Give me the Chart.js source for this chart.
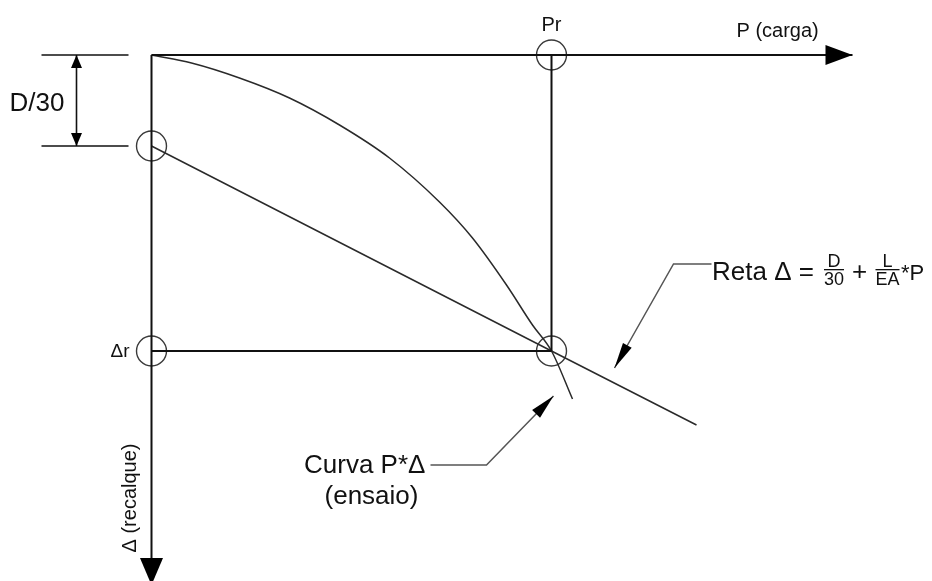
<!DOCTYPE html>
<html>
<head>
<meta charset="utf-8">
<script src="https://cdn.jsdelivr.net/npm/chart.js@4/dist/chart.umd.min.js"></script>
<style>
  html, body { margin: 0; padding: 0; background: #ffffff; }
  canvas { display: block; }
</style>
</head>
<body>
<canvas id="diagrama" width="932" height="581"></canvas>
<script>
// Carga P (eixo horizontal) e recalque Δ (eixo vertical, para baixo), em unidades do desenho
const loadAxis = [[0, 0], [701, 0]];
const settlementAxis = [[0, 0], [0, 530]];
const Pr = 400;
const deltaR = 296;
const D30 = 91;

// Curva P x Δ do ensaio
const curveP     = [0, 40, 88, 138, 188, 238, 288, 321, 355, 381, 400, 421];
const curveDelta = [0, 8, 23, 43, 70, 103, 147, 183, 230, 270, 296, 344];

// Reta Δ = D/30 + L/(EA)·P
const retaP     = [0, 400, 545];
const retaDelta = [91, 296, 370];

// Pontos marcados com círculo
const markerP     = [400, 0, 0, 400];
const markerDelta = [0, 91, 296, 296];

// Cota D/30 à esquerda
const dimTicks = [-110, -23];
const dimP = -75;

// Linhas de chamada das legendas
const retaLeader  = [[560, 209], [522, 209], [463, 313]];
const curvaLeader = [[279, 410], [335, 410], [402, 341]];

const toXY = arr => arr.map(([x, y]) => ({ x, y }));
const zip = (xs, ys) => xs.map((x, i) => ({ x, y: ys[i] }));

const INK = '#111111';
const THIN = '#2a2a2a';
const LEAD = '#555555';

function lineSet(data, color, width, extra) {
  return Object.assign({
    data, showLine: true, borderColor: color, borderWidth: width,
    pointRadius: 0, pointHoverRadius: 0, fill: false, tension: 0
  }, extra || {});
}

const datasets = [
  lineSet(toXY(loadAxis), INK, 2, { arrow: { end: true, len: 27, half: 10 } }),
  lineSet(toXY(settlementAxis), INK, 2, { arrow: { end: true, len: 27, half: 11.5 } }),
  lineSet([{ x: Pr, y: 0 }, { x: Pr, y: deltaR }], INK, 2),
  lineSet([{ x: 0, y: deltaR }, { x: Pr, y: deltaR }], INK, 2),
  lineSet(zip(curveP, curveDelta), THIN, 1.5, { cubicInterpolationMode: 'monotone' }),
  lineSet(zip(retaP, retaDelta), THIN, 1.5),
  lineSet([{ x: dimTicks[0], y: 0 }, { x: dimTicks[1], y: 0 }], INK, 1.6),
  lineSet([{ x: dimTicks[0], y: D30 }, { x: dimTicks[1], y: D30 }], INK, 1.6),
  lineSet([{ x: dimP, y: 0 }, { x: dimP, y: D30 }], INK, 1.6,
          { arrow: { start: true, end: true, len: 13, half: 5.5 } }),
  lineSet(toXY(retaLeader), LEAD, 1.5, { arrow: { end: true, len: 26, half: 5 } }),
  lineSet(toXY(curvaLeader), LEAD, 1.5, { arrow: { end: true, len: 25, half: 5.5 } }),
  {
    data: zip(markerP, markerDelta), showLine: false,
    pointStyle: 'circle', pointRadius: 15, pointHoverRadius: 15,
    pointBackgroundColor: 'rgba(0,0,0,0)', pointBorderColor: '#3a3a3a', pointBorderWidth: 1.4
  }
];

// Pontas de seta nas extremidades das linhas marcadas com "arrow"
const arrowHeads = {
  id: 'arrowHeads',
  afterDatasetsDraw(chart) {
    const ctx = chart.ctx;
    chart.data.datasets.forEach((ds, i) => {
      if (!ds.arrow) return;
      const pts = chart.getDatasetMeta(i).data;
      const head = (tip, from) => {
        const dx = tip.x - from.x, dy = tip.y - from.y;
        const d = Math.hypot(dx, dy) || 1;
        const ux = dx / d, uy = dy / d;
        const bx = tip.x - ux * ds.arrow.len, by = tip.y - uy * ds.arrow.len;
        ctx.beginPath();
        ctx.moveTo(tip.x, tip.y);
        ctx.lineTo(bx - uy * ds.arrow.half, by + ux * ds.arrow.half);
        ctx.lineTo(bx + uy * ds.arrow.half, by - ux * ds.arrow.half);
        ctx.closePath();
        ctx.fillStyle = '#000';
        ctx.fill();
      };
      ctx.save();
      if (ds.arrow.end) head(pts[pts.length - 1], pts[pts.length - 2]);
      if (ds.arrow.start) head(pts[0], pts[1]);
      ctx.restore();
    });
  }
};

// Textos do diagrama
const FONT = '"Liberation Sans", Arial, sans-serif';
const diagramText = {
  id: 'diagramText',
  afterDraw(chart) {
    const ctx = chart.ctx;
    const sx = chart.scales.x, sy = chart.scales.y;
    const X = v => sx.getPixelForValue(v), Y = v => sy.getPixelForValue(v);
    const put = (txt, x, y, size, align) => {
      ctx.font = size + 'px ' + FONT;
      ctx.textAlign = align || 'left';
      ctx.textBaseline = 'alphabetic';
      ctx.fillText(txt, x, y);
    };
    ctx.save();
    ctx.fillStyle = INK;

    put('Pr', X(Pr), Y(-24), 20, 'center');
    put('P (carga)', X(585), Y(-18), 20, 'left');
    put('D/30', X(-142), Y(56), 26, 'left');
    put('\u0394r', X(-22), Y(302), 19, 'right');

    // Reta Δ = D/30 + L/EA * P
    const rx = X(560.5), ry = Y(225);
    put('Reta \u0394 =', rx, ry, 26, 'left');
    const frac = (num, den, cx) => {
      put(num, cx, ry - 13, 18, 'center');
      put(den, cx, ry + 5, 18, 'center');
      ctx.font = '18px ' + FONT;
      const w = Math.max(ctx.measureText(num).width, ctx.measureText(den).width);
      ctx.fillRect(cx - w / 2, ry - 11, w, 1.3);
    };
    frac('D', '30', X(682.5));
    put('+', X(708), ry, 26, 'center');
    frac('L', 'EA', X(736));
    put('*P', X(749.5), ry, 22, 'left');

    put('Curva P*\u0394', X(152.5), Y(418), 26, 'left');
    put('(ensaio)', X(220), Y(449), 26, 'center');

    // Rótulo do eixo vertical, girado
    ctx.save();
    ctx.translate(X(-21.5), Y(443));
    ctx.rotate(-Math.PI / 2);
    ctx.font = '20px ' + FONT;
    ctx.textAlign = 'center';
    ctx.textBaseline = 'middle';
    ctx.fillText('\u0394 (recalque)', 0, 0);
    ctx.restore();

    ctx.restore();
  }
};

new Chart(document.getElementById('diagrama'), {
  type: 'scatter',
  data: { datasets },
  options: {
    responsive: false,
    animation: false,
    devicePixelRatio: 1,
    layout: { padding: 0, autoPadding: false },
    plugins: { legend: { display: false }, tooltip: { enabled: false } },
    events: [],
    scales: {
      x: { type: 'linear', min: -151.5, max: 780.5, display: false },
      y: { type: 'linear', min: -55, max: 526, reverse: true, display: false }
    },
    elements: { line: { borderCapStyle: 'butt' } }
  },
  plugins: [arrowHeads, diagramText]
});
</script>
</body>
</html>
